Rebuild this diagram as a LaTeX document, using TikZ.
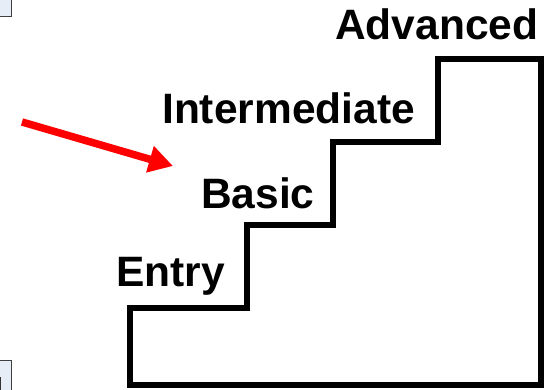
\documentclass[tikz,border=0pt]{standalone}
\usepackage{fontspec}
\setmainfont{Liberation Sans}
\usetikzlibrary{arrows.meta,positioning}
\definecolor{paleblue}{HTML}{E6EDF7}
\begin{document}
\begin{tikzpicture}[x=1pt,y=-1pt,
           stair/.style={draw=black,line width=6pt,line join=miter},
           level/.style={anchor=base west,inner sep=0pt,font=\fontsize{42.5}{46}\selectfont\bfseries},
           pointer/.style={draw=red,line width=7.5pt,-{Triangle[length=24pt,width=26pt]}},
           tab/.style={draw=black!75,fill=paleblue,line width=1pt}]
          \useasboundingbox (0,0) rectangle (550,390);
          % window bits at the left edge
          \draw[tab] (-2,-2) rectangle (11,17);
          \draw[tab] (-2,361) rectangle (11,392);
          \fill[black!80] (-1,377) rectangle (1,392);
          % the staircase
          \draw[stair] (130,385) -- (130,308) -- (247,308) -- (247,225)
            -- (333,225) -- (333,142) -- (438,142) -- (438,59)
            -- (541,59) -- (541,385) -- cycle;
          \node[level] (entry) at (116,287) {Entry};
          \node[level] (basic) at (201,209) {Basic};
          \node[level] (inter) at (162,124) {Intermediate};
          \node[level] (adv) at (335,40) {Advanced};
          \coordinate (from) at (22,122);
          \coordinate (to) at (173,166);
          \draw[pointer] (from) -- (to);
         \end{tikzpicture}
\end{document}
